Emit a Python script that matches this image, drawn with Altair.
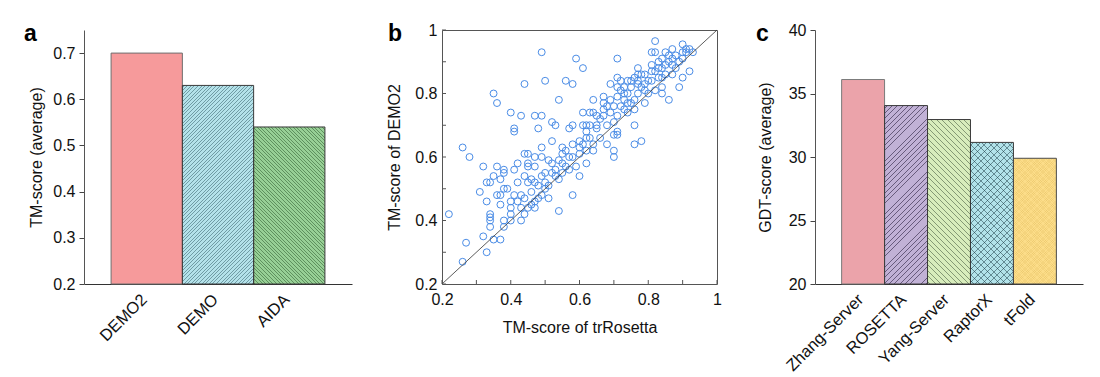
import altair as alt
import pandas as pd

# ---------------- data ----------------
cats_a = ["DEMO2", "DEMO", "AIDA"]
vals_a = [0.70, 0.63, 0.54]
colors_a = ["#f69a9b", "#b4e2ea", "#97d096"]

cats_c = ["Zhang-Server", "ROSETTA", "Yang-Server", "RaptorX", "tFold"]
vals_c = [36.1, 34.05, 32.95, 31.15, 29.9]
colors_c = ["#eba3aa", "#c1b1d6", "#d8edbc", "#b2e3ea", "#fcdd89"]

tr_x = [0.49, 0.59, 0.61, 0.71, 0.35, 0.36, 0.44, 0.50, 0.56, 0.58, 0.54, 0.40, 0.43, 0.41, 0.41,
        0.47, 0.49, 0.48, 0.52, 0.53, 0.57, 0.58, 0.52, 0.49, 0.26, 0.28, 0.22, 0.32, 0.36, 0.38,
        0.31, 0.33, 0.34, 0.35, 0.33, 0.34, 0.34, 0.34, 0.34, 0.32, 0.35, 0.37, 0.27, 0.33, 0.26,
        0.37, 0.38, 0.39, 0.37, 0.38, 0.38, 0.40, 0.40, 0.40, 0.41, 0.41, 0.42, 0.42, 0.43, 0.43,
        0.43, 0.44, 0.45, 0.44, 0.45, 0.45, 0.44, 0.45, 0.46, 0.46, 0.47, 0.47, 0.47, 0.47, 0.48,
        0.49, 0.49, 0.49, 0.50, 0.51, 0.51, 0.51, 0.52, 0.53, 0.54, 0.54, 0.54, 0.55, 0.55, 0.56,
        0.57, 0.58, 0.58, 0.59, 0.60, 0.60, 0.60, 0.61, 0.61, 0.62, 0.62, 0.62, 0.62, 0.63, 0.63,
        0.64, 0.64, 0.64, 0.64, 0.65, 0.66, 0.67, 0.67, 0.67, 0.68, 0.68, 0.69, 0.69, 0.70, 0.70,
        0.70, 0.70, 0.71, 0.71, 0.71, 0.71, 0.71, 0.71, 0.72, 0.72, 0.73, 0.73, 0.73, 0.74, 0.74,
        0.74, 0.75, 0.75, 0.76, 0.76, 0.76, 0.76, 0.76, 0.77, 0.77, 0.77, 0.77, 0.78, 0.78, 0.79,
        0.79, 0.79, 0.80, 0.81, 0.81, 0.81, 0.81, 0.82, 0.82, 0.82, 0.83, 0.83, 0.83, 0.84, 0.84,
        0.84, 0.85, 0.85, 0.86, 0.86, 0.87, 0.87, 0.87, 0.88, 0.89, 0.90, 0.90, 0.90, 0.91, 0.91,
        0.92, 0.92, 0.93,
        0.84, 0.86, 0.89, 0.88, 0.80, 0.78, 0.75, 0.73, 0.72, 0.69, 0.68, 0.66, 0.65, 0.63, 0.60,
        0.57, 0.55, 0.53, 0.50, 0.48, 0.46, 0.44, 0.42, 0.40, 0.36, 0.37, 0.38, 0.45, 0.47, 0.50,
        0.52, 0.55, 0.58, 0.56, 0.61, 0.62, 0.65, 0.67, 0.70, 0.74, 0.77, 0.79, 0.82, 0.85, 0.87,
        0.90, 0.84]
demo2_y = [0.93, 0.91, 0.88, 0.91, 0.80, 0.77, 0.83, 0.84, 0.84, 0.83, 0.78, 0.74, 0.73, 0.69, 0.68,
           0.73, 0.73, 0.69, 0.71, 0.70, 0.69, 0.70, 0.65, 0.63, 0.63, 0.60, 0.42, 0.57, 0.57, 0.56,
           0.49, 0.52, 0.52, 0.54, 0.46, 0.42, 0.41, 0.40, 0.38, 0.35, 0.34, 0.34, 0.33, 0.30, 0.27,
           0.48, 0.50, 0.50, 0.45, 0.40, 0.38, 0.46, 0.44, 0.40, 0.48, 0.56, 0.58, 0.52, 0.48, 0.40,
           0.44, 0.61, 0.61, 0.54, 0.57, 0.58, 0.42, 0.44, 0.53, 0.49, 0.60, 0.57, 0.44, 0.46, 0.51,
           0.60, 0.54, 0.48, 0.52, 0.59, 0.51, 0.47, 0.55, 0.56, 0.59, 0.53, 0.43, 0.61, 0.63, 0.57,
           0.60, 0.64, 0.48, 0.57, 0.65, 0.61, 0.54, 0.74, 0.70, 0.68, 0.66, 0.62, 0.58, 0.74, 0.70,
           0.78, 0.74, 0.64, 0.62, 0.69, 0.66, 0.79, 0.77, 0.73, 0.70, 0.64, 0.83, 0.74, 0.71, 0.67,
           0.62, 0.60, 0.85, 0.82, 0.79, 0.73, 0.68, 0.67, 0.81, 0.76, 0.80, 0.78, 0.75, 0.84, 0.77,
           0.74, 0.82, 0.77, 0.85, 0.78, 0.75, 0.70, 0.64, 0.88, 0.86, 0.84, 0.80, 0.82, 0.65, 0.86,
           0.83, 0.77, 0.80, 0.93, 0.89, 0.87, 0.84, 0.965, 0.93, 0.81, 0.90, 0.88, 0.85, 0.88, 0.82,
           0.80, 0.93, 0.86, 0.90, 0.78, 0.94, 0.89, 0.86, 0.92, 0.82, 0.955, 0.91, 0.85, 0.94, 0.93,
           0.94, 0.87, 0.93,
           0.91, 0.92, 0.90, 0.88, 0.84, 0.86, 0.84, 0.82, 0.84, 0.78, 0.76, 0.72, 0.70, 0.66, 0.63,
           0.56, 0.55, 0.54, 0.50, 0.47, 0.45, 0.47, 0.46, 0.42, 0.48, 0.53, 0.55, 0.52, 0.52, 0.55,
           0.58, 0.58, 0.60, 0.62, 0.64, 0.70, 0.73, 0.75, 0.76, 0.80, 0.83, 0.81, 0.87, 0.89, 0.91,
           0.93, 0.85]

diag = [0.2, 1.0]
tick_vals = [0.2, 0.3, 0.4, 0.5, 0.6, 0.7, 0.8, 0.9, 1.0]
label_vals = [0.2, 0.4, 0.6, 0.8, 1.0]

# ---------------- styling helpers ----------------
FONT = "Liberation Sans"
PH = 254  # plot height


def hatch(w, h, spacing, direction, color, lw=0.9):
    total = w + h
    clear = "rgba(0,0,0,0)"
    stops = [{"offset": 0, "color": clear}]
    k = 0
    while True:
        t0 = (k * spacing + spacing / 2 - lw / 2) / total
        t1 = t0 + lw / total
        if t1 >= 1:
            break
        t0, t1 = round(t0, 5), round(t1, 5)
        stops += [{"offset": t0, "color": clear}, {"offset": t0, "color": color},
                  {"offset": t1, "color": color}, {"offset": t1, "color": clear}]
        k += 1
    stops.append({"offset": 1, "color": clear})
    f = (w + h) / (w * w + h * h)
    if direction == "/":
        return {"gradient": "linear", "x1": 0, "y1": 0, "x2": w * f, "y2": h * f, "stops": stops}
    return {"gradient": "linear", "x1": 0, "y1": 1, "x2": w * f, "y2": 1 - h * f, "stops": stops}


def bar_panel(key, cats, vals, colors, strokes, dom, ticks, pad_outer, width, title, letter,
              letter_dx, hatches, title_pad, fmt):
    cat_f = "cat_" + key
    val_f = "val_" + key
    df = pd.DataFrame({cat_f: cats, val_f: vals})
    n = len(cats)
    step = width / (n + 2 * pad_outer)
    x = alt.X(cat_f + ":N", sort=cats, title=None,
              scale=alt.Scale(paddingInner=0, paddingOuter=pad_outer),
              axis=alt.Axis(labelAngle=-45, labelAlign="right", labelBaseline="top",
                            labelOffset=-8, labelPadding=7,
                            labelFontSize=16.5, labelColor="#111", ticks=False,
                            domainColor="#333"))
    y = alt.Y(val_f + ":Q", title=title,
              scale=alt.Scale(domain=dom, zero=False, nice=False),
              axis=alt.Axis(values=ticks, format=fmt, labelFontSize=16, labelColor="#111",
                            tickSize=5, tickColor="#444", domainColor="#555", titleFontSize=16,
                            titleFontWeight="normal", titleColor="#111", titlePadding=title_pad,
                            labelPadding=4, grid=False))
    base = alt.Chart(df).encode(x=x, y=y, y2=alt.datum(dom[0]))
    layers = []
    for cat, col in zip(cats, colors):
        layers.append(base.transform_filter(alt.datum[cat_f] == cat)
                      .mark_bar(fill=col, strokeWidth=0))
    for cat, specs in hatches.items():
        i = cats.index(cat)
        h = (vals[i] - dom[0]) / (dom[1] - dom[0]) * PH
        for spacing, direction, col, lw in specs:
            layers.append(base.transform_filter(alt.datum[cat_f] == cat)
                          .mark_bar(fill=hatch(step, h, spacing, direction, col, lw),
                                    strokeWidth=0))
    for cat, sc in zip(cats, strokes):
        layers.append(base.transform_filter(alt.datum[cat_f] == cat)
                      .mark_bar(fillOpacity=0, stroke=sc, strokeWidth=1))
    layers.append(alt.Chart(pd.DataFrame({"t": [letter]})).mark_text(
        text=letter, fontSize=23, fontWeight="bold", align="left", baseline="alphabetic",
        color="#000").encode(x=alt.value(letter_dx), y=alt.value(11)))
    return alt.layer(*layers).properties(width=width, height=PH)


panel_a = bar_panel("a", cats_a, vals_a, colors_a, ["#6e6e6e", "#3a3a3a", "#3a3a3a"],
                    [0.2, 0.75], [0.2, 0.3, 0.4, 0.5, 0.6, 0.7],
                    0.38, 268, "TM-score (average)", "a", -60,
                    {"DEMO": [(3.6, "/", "rgba(10,50,60,0.4)", 0.9)],
                     "AIDA": [(3.6, "\\", "rgba(10,50,10,0.4)", 0.9)]}, 8, ".1f")

panel_c = bar_panel("c", cats_c, vals_c, colors_c,
                    ["#7a7a7a", "#3a3a3a", "#3a3a3a", "#3a3a3a", "#4a4a4a"],
                    [20, 40], [20, 25, 30, 35, 40],
                    0.62, 268, "GDT-score (average)", "c", -59,
                    {"ROSETTA": [(5.3, "/", "rgba(30,20,50,0.55)", 0.9)],
                     "Yang-Server": [(5.5, "\\", "rgba(30,50,30,0.45)", 0.9)],
                     "RaptorX": [(6.5, "/", "rgba(20,50,60,0.5)", 0.9),
                                 (6.5, "\\", "rgba(20,50,60,0.5)", 0.9)],
                     "tFold": [(2.4, "/", "rgba(170,120,0,0.09)", 0.8),
                               (2.4, "\\", "rgba(170,120,0,0.09)", 0.8)]},
                    15, "d")

# ---------------- scatter panel ----------------
df_s = pd.DataFrame({"x": tr_x, "y": demo2_y})
df_d = pd.DataFrame({"x": diag, "y": diag})
df_xt = pd.DataFrame({"x": tick_vals})
df_yt = pd.DataFrame({"y": tick_vals})
lab_expr = "datum.value == 1 ? '1' : format(datum.value, '.1f')"
sx = alt.Scale(domain=[0.2, 1.0], nice=False, zero=False)
sy = alt.Scale(domain=[0.2, 1.0], nice=False, zero=False)
ax_x = alt.Axis(values=label_vals, labelExpr=lab_expr, ticks=False, domain=False,
                grid=False, labelFontSize=16, labelColor="#111", labelPadding=7,
                titleFontSize=16, titleFontWeight="normal", titleColor="#111",
                titlePadding=12, labelFlush=False)
ax_y = alt.Axis(values=label_vals, labelExpr=lab_expr, ticks=False, domain=False,
                grid=False, labelFontSize=16, labelColor="#111", labelPadding=5,
                titleFontSize=16, titleFontWeight="normal", titleColor="#111",
                titlePadding=12, labelFlush=False)
X = alt.X("x:Q", scale=sx, title="TM-score of trRosetta", axis=ax_x)
Y = alt.Y("y:Q", scale=sy, title="TM-score of DEMO2", axis=ax_y)

pts = alt.Chart(df_s).mark_point(shape="circle", filled=False, size=48, stroke="#4a8ce6",
                                 strokeWidth=1, opacity=1).encode(x=X, y=Y)
line = alt.Chart(df_d).mark_line(color="#333", strokeWidth=0.8).encode(x=X, y=Y)
yt = alt.Chart(df_yt).mark_rule(color="#555", strokeWidth=1).encode(
    y=Y, x=alt.value(0), x2=alt.value(4))
xt = alt.Chart(df_xt).mark_rule(color="#555", strokeWidth=1).encode(
    x=X, y=alt.value(PH), y2=alt.value(PH - 4))
let_b = alt.Chart(pd.DataFrame({"t": ["b"]})).mark_text(
    text="b", fontSize=23, fontWeight="bold", align="left", baseline="alphabetic",
    color="#000").encode(x=alt.value(-54), y=alt.value(11))

panel_b = alt.layer(pts, line, yt, xt, let_b).properties(
    width=275, height=PH, view=alt.ViewBackground(stroke="#555", strokeWidth=1))

chart = alt.hconcat(panel_a, panel_b, panel_c, spacing=34).properties(
    padding={"left": 16, "top": 13, "right": 5, "bottom": 5}
).configure(font=FONT).configure_view(strokeWidth=0)

chart.save("out.html", embed_options={"renderer": "svg", "actions": False})
